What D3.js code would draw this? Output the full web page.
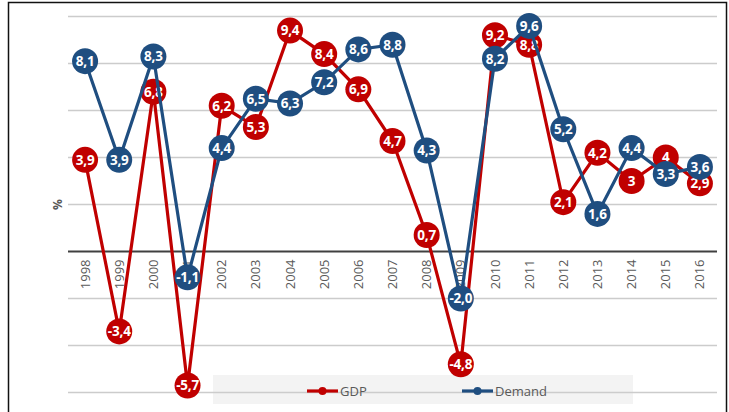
<!DOCTYPE html>
<html><head><meta charset="utf-8">
<script src="https://cdn.jsdelivr.net/npm/d3@7/dist/d3.min.js"></script>
<style>html,body{margin:0;padding:0;background:#fff;}svg{display:block;}</style>
</head><body><svg id="c" width="729" height="412"></svg>
<script>
const years = ["1998","1999","2000","2001","2002","2003","2004","2005","2006","2007","2008","2009","2010","2011","2012","2013","2014","2015","2016"];
const gdp = [3.9,-3.4,6.8,-5.7,6.2,5.3,9.4,8.4,6.9,4.7,0.7,-4.8,9.2,8.8,2.1,4.2,3,4,2.9];
const demand = [8.1,3.9,8.3,-1.1,4.4,6.5,6.3,7.2,8.6,8.8,4.3,-2.0,8.2,9.6,5.2,1.6,4.4,3.3,3.6];
const yTicks = [-6,-4,-2,0,2,4,6,8,10];
const seriesNames = ["GDP","Demand"];
const colors = ["#c00000","#1f4e80"];

const svg = d3.select("#c");
const font = "'Open Sans', sans-serif";
// frame
svg.append("rect").attr("x",8.5).attr("y",2.5).attr("width",718).attr("height",420)
  .attr("fill","none").attr("stroke","#111").attr("stroke-width",1.5);

const x = d3.scaleBand().domain(years).range([68,717]);
const y = d3.scaleLinear().domain([-6,10]).range([392.5,16.5]);
const cx = d => x(d) + x.bandwidth()/2;

// legend background
svg.append("rect").attr("x",213).attr("y",375).attr("width",420).attr("height",29).attr("fill","#f3f3f3");

// gridlines
svg.append("g").selectAll("line").data(yTicks.filter(t=>t!==0)).join("line")
  .attr("x1",68).attr("x2",717).attr("y1",d=>y(d)).attr("y2",d=>y(d))
  .attr("stroke","#cccccc").attr("stroke-width",1.5);

// zero axis
const xAxis = d3.axisBottom(x).tickSize(0).tickPadding(0);
const gx = svg.append("g").attr("transform",`translate(0,${y(0)})`).call(xAxis);
gx.select(".domain").attr("stroke","#404040").attr("stroke-width",2.2).attr("d","M68,0H717");
gx.selectAll(".tick text").attr("transform","rotate(-90)").attr("x",-8).attr("y",0).attr("dy","0.35em")
  .attr("text-anchor","end").attr("font-family",font).attr("font-size",13).attr("fill","#595959");

// y axis label
svg.append("text").attr("transform",`translate(62,${y(2)}) rotate(-90)`).attr("text-anchor","middle")
  .attr("font-family",font).attr("font-size",12).attr("font-weight","bold").attr("fill","#595959").text("%");

const series = [gdp, demand];
const fmt = [v=>String(v).replace(".",","), v=>v.toFixed(1).replace(".",",")];
series.forEach((vals,i)=>{
  const line = d3.line().x((d,j)=>cx(years[j])).y(d=>y(d));
  svg.append("path").datum(vals).attr("d",line).attr("fill","none").attr("stroke",colors[i]).attr("stroke-width",3.2);
  const g = svg.append("g").selectAll("g").data(vals).join("g")
    .attr("transform",(d,j)=>`translate(${cx(years[j])},${y(d)})`);
  g.append("circle").attr("r",13).attr("fill",colors[i]);
  g.append("text").attr("text-anchor","middle").attr("dy","0.36em").attr("font-family",font)
    .attr("font-weight","bold").attr("font-size",13.5).attr("letter-spacing","-0.2").attr("fill","#fff").text(d=>fmt[i](d));
});

// legend
const leg = [{x:307,tx:340},{x:462,tx:495}];
leg.forEach((l,i)=>{
  svg.append("line").attr("x1",l.x).attr("x2",l.x+31).attr("y1",391).attr("y2",391).attr("stroke",colors[i]).attr("stroke-width",3.2);
  svg.append("circle").attr("cx",l.x+15.5).attr("cy",391).attr("r",4).attr("fill",colors[i]);
  svg.append("text").attr("x",l.tx).attr("y",391).attr("dy","0.35em").attr("font-family",font).attr("font-size",13)
    .attr("fill","#595959").text(seriesNames[i]);
});
</script></body></html>
